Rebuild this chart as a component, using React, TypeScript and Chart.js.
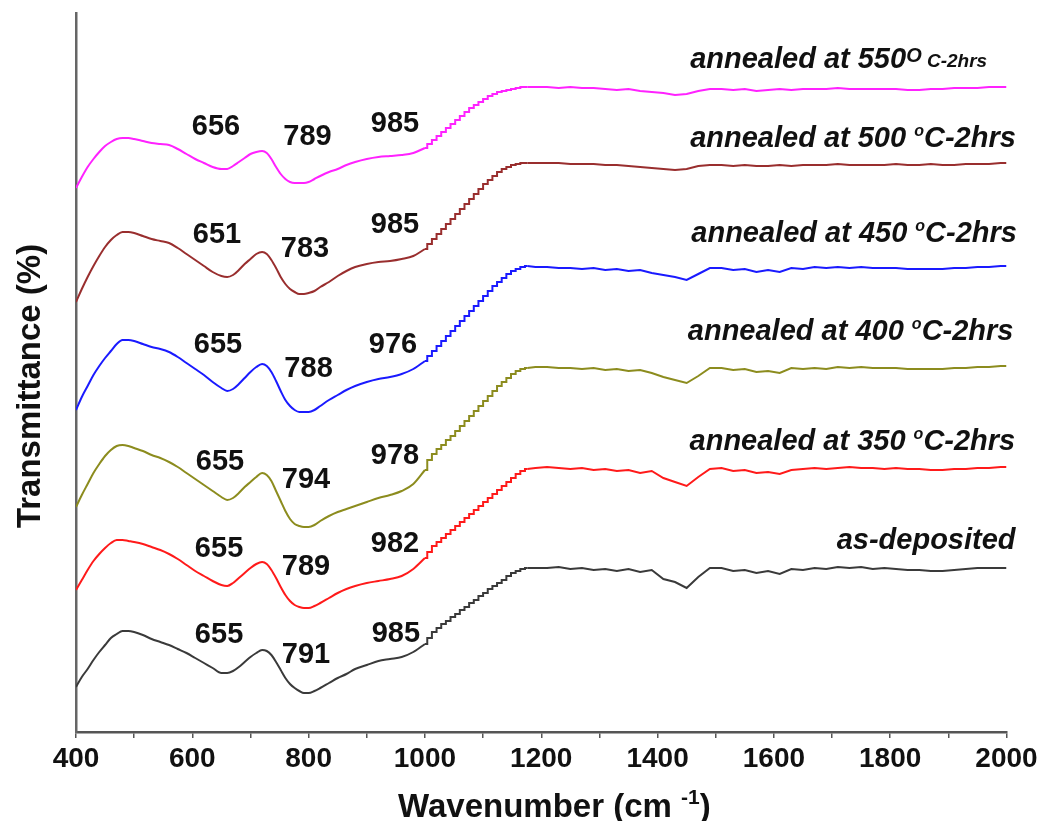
import React, { useEffect, useRef } from 'react';
import { Chart, registerables } from 'chart.js';
Chart.register(...registerables);

const FONT = '"Liberation Sans", Arial, Helvetica, sans-serif';

// wavenumber grids (cm-1)
const wnSmooth = [400, 410, 420, 430, 440, 450, 460, 470, 480, 490,
  500, 515, 530, 545, 560, 575, 590, 605, 620, 635,
  650, 660, 670, 680, 690, 700, 710, 720, 728, 736,
  744, 752, 760, 768, 776, 784, 792, 800, 810, 820,
  835, 850, 865, 880, 900, 920, 940, 960, 980, 1000];
const wnStep = [1000, 1008, 1016, 1024, 1032, 1040, 1048, 1056, 1064, 1072,
  1080, 1088, 1096, 1104, 1112, 1120, 1128, 1136, 1144, 1152,
  1160, 1168, 1176,
  1190, 1210, 1230, 1250, 1270, 1290, 1310,
  1330, 1350, 1370, 1390, 1410, 1430, 1450, 1470, 1490, 1510,
  1530, 1550, 1570, 1590, 1610, 1630, 1650, 1670, 1690, 1710,
  1730, 1750, 1770, 1790, 1810, 1830, 1850, 1870, 1890, 1910,
  1930, 1950, 1970, 1990, 2000];
const RISE_END = 23; // first 23 points of wnStep form the stair-stepped rise

// offset transmittance (arbitrary units) — as-deposited
const asDepSmooth = [45, 55, 63, 72, 80, 87, 94, 98, 101, 101,
  100, 97, 93, 90, 87, 83, 79, 74, 69, 64,
  59, 59, 61, 65, 70, 75, 79, 82, 81, 77,
  70, 62, 54, 48, 44, 41, 39, 39, 41, 44,
  49, 54, 58, 63, 67, 71, 73, 75, 80, 88];
const asDepStep = [88, 94, 100, 104, 108, 111, 115, 118, 122, 125,
  129, 132, 136, 139, 143, 146, 149, 152, 156, 159,
  161, 163, 164,
  164, 164, 165, 163, 164, 162, 163,
  161, 163, 160, 162, 153, 150, 144, 155, 164, 164,
  161, 162, 159, 161, 158, 163, 162, 164, 163, 165,
  164, 165, 163, 164, 163, 162, 162, 161, 161, 162,
  163, 164, 164, 164, 164];

// annealed 350 °C
const t350Smooth = [142, 152, 162, 171, 178, 184, 189, 192, 192, 191,
  190, 188, 185, 182, 178, 173, 167, 161, 156, 151,
  147, 146, 149, 154, 159, 164, 168, 170, 168, 162,
  154, 145, 137, 131, 127, 125, 124, 124, 126, 129,
  134, 139, 143, 146, 149, 151, 153, 156, 163, 174];
const t350Step = [174, 180, 186, 190, 194, 198, 202, 206, 210, 214,
  218, 222, 226, 230, 234, 238, 242, 246, 250, 254,
  258, 261, 263,
  264, 265, 264, 263, 264, 262, 263,
  261, 262, 259, 261, 254, 250, 246, 255, 263, 264,
  261, 262, 259, 260, 258, 262, 263, 264, 263, 264,
  265, 264, 264, 263, 264, 263, 263, 262, 262, 263,
  263, 264, 264, 265, 265];

// annealed 400 °C
const t400Smooth = [225, 237, 248, 259, 268, 276, 282, 286, 287, 286,
  284, 281, 277, 274, 270, 265, 259, 253, 247, 241,
  235, 232, 234, 239, 245, 250, 255, 259, 257, 251,
  241, 231, 221, 213, 208, 206, 205, 205, 207, 211,
  216, 220, 223, 226, 230, 234, 237, 241, 248, 262];
const t400Step = [262, 272, 278, 283, 287, 292, 296, 301, 306, 311,
  316, 321, 326, 331, 336, 341, 346, 350, 354, 358,
  361, 363, 364,
  365, 365, 364, 364, 363, 364, 362,
  363, 361, 362, 359, 355, 352, 349, 356, 364, 364,
  362, 363, 360, 361, 359, 364, 363, 364, 363, 365,
  364, 365, 364, 364, 364, 363, 363, 363, 363, 364,
  364, 365, 365, 366, 366];

// annealed 450 °C
const t450Smooth = [322, 335, 346, 357, 366, 374, 381, 388, 392, 392,
  391, 388, 385, 383, 380, 375, 369, 363, 357, 350,
  344, 341, 343, 348, 354, 360, 365, 368, 366, 360,
  351, 341, 332, 326, 322, 320, 320, 320, 322, 326,
  332, 337, 342, 346, 350, 353, 355, 358, 363, 371];
const t450Step = [371, 376, 381, 386, 391, 396, 401, 406, 411, 416,
  421, 426, 431, 436, 441, 446, 450, 454, 458, 461,
  463, 465, 466,
  465, 465, 464, 464, 463, 464, 462,
  463, 461, 462, 459, 457, 455, 452, 458, 464, 464,
  462, 463, 460, 462, 460, 464, 463, 465, 464, 465,
  464, 465, 464, 464, 464, 463, 463, 463, 463, 464,
  464, 465, 465, 466, 466];

// annealed 500 °C
const t500Smooth = [430, 443, 455, 466, 476, 485, 492, 497, 500, 500,
  499, 496, 493, 491, 489, 484, 478, 472, 466, 460,
  456, 455, 457, 462, 468, 473, 478, 480, 478, 472,
  464, 455, 448, 443, 440, 438, 438, 439, 441, 445,
  450, 456, 461, 465, 468, 470, 471, 473, 476, 483];
const t500Step = [483, 488, 493, 498, 503, 508, 513, 518, 523, 528,
  533, 538, 543, 548, 552, 556, 560, 563, 565, 567,
  568, 569, 569,
  569, 569, 569, 568, 568, 568, 567,
  567, 566, 565, 564, 563, 562, 563, 566, 567, 567,
  566, 567, 566, 566, 567, 566, 567, 567, 567, 568,
  567, 567, 567, 567, 568, 567, 567, 568, 567, 567,
  568, 568, 568, 569, 569];

// annealed 550 °C
const t550Smooth = [544, 555, 565, 573, 580, 586, 590, 593, 594, 594,
  593, 591, 589, 588, 587, 583, 578, 573, 569, 565,
  563, 563, 566, 570, 574, 578, 580, 581, 579, 573,
  565, 558, 553, 550, 549, 549, 549, 550, 553, 556,
  560, 563, 567, 570, 573, 575, 576, 577, 579, 584];
const t550Step = [584, 588, 592, 596, 600, 604, 608, 612, 616, 620,
  624, 627, 630, 633, 636, 638, 640, 641, 642, 643,
  644, 645, 645,
  645, 645, 644, 645, 644, 644, 643,
  642, 643, 641, 640, 639, 637, 638, 641, 643, 643,
  642, 643, 641, 642, 643, 642, 643, 643, 643, 644,
  643, 643, 643, 643, 643, 642, 642, 643, 643, 644,
  644, 644, 645, 645, 645];

const seriesSmooth = [asDepSmooth, t350Smooth, t400Smooth, t450Smooth, t500Smooth, t550Smooth];
const seriesStep = [asDepStep, t350Step, t400Step, t450Step, t500Step, t550Step];
const seriesColors = ['#3a3a3a', '#ff1a1a', '#8c8c1e', '#1a1aff', '#992e2e', '#ff22ff'];

// series name labels
const labelMain = ['as-deposited', 'annealed at 350 ', 'annealed at 400 ', 'annealed at 450 ', 'annealed at 500 ', 'annealed at 550'];
const labelWn = [1708, 1455, 1452, 1458, 1456, 1456];
const labelVal = [183, 282, 392, 490, 585, 664];

// peak annotations
const peakText = ['655', '791', '985', '655', '789', '982', '655', '794', '978', '655', '788', '976', '651', '783', '985', '656', '789', '985'];
const peakWn = [646, 795.5, 950, 646, 795.5, 948.5, 647.6, 795.5, 948.5, 644.2, 799.9, 945.1, 642.4, 793.8, 948.5, 640.7, 798.1, 948.5];
const peakVal = [89, 69, 90, 175, 157, 180, 262, 244, 268, 379, 355, 379, 489, 475, 499, 597, 587, 600];

const xTicks = [400, 600, 800, 1000, 1200, 1400, 1600, 1800, 2000];

function pts(xs: number[], ys: number[]) {
  return xs.map((x, i) => ({ x, y: ys[i] }));
}

function drawParts(ctx: CanvasRenderingContext2D, x: number, y: number, parts: { t: string; f: string; dy: number }[]) {
  let cx = x;
  for (const p of parts) {
    ctx.font = p.f;
    ctx.fillText(p.t, cx, y + p.dy);
    cx += ctx.measureText(p.t).width;
  }
}

const annotPlugin = {
  id: 'annot',
  afterDraw(chart: any) {
    const ctx: CanvasRenderingContext2D = chart.ctx;
    const xs = chart.scales.x;
    const ys = chart.scales.y;
    ctx.save();
    ctx.fillStyle = '#111';
    ctx.textBaseline = 'alphabetic';
    // peak labels
    ctx.textAlign = 'center';
    ctx.font = `bold 29px ${FONT}`;
    peakText.forEach((t, i) => {
      ctx.fillText(t, xs.getPixelForValue(peakWn[i]), ys.getPixelForValue(peakVal[i]));
    });
    // series labels
    ctx.textAlign = 'left';
    const big = `italic bold 29px ${FONT}`;
    labelMain.forEach((t, i) => {
      const x = xs.getPixelForValue(labelWn[i]);
      const y = ys.getPixelForValue(labelVal[i]);
      if (i === 0) {
        drawParts(ctx, x, y, [{ t, f: big, dy: 0 }]);
      } else if (i === 5) {
        drawParts(ctx, x, y, [
          { t, f: big, dy: 0 },
          { t: 'O', f: `italic bold 20px ${FONT}`, dy: -6 },
          { t: ' C-2hrs', f: `italic bold 19px ${FONT}`, dy: -1 },
        ]);
      } else {
        drawParts(ctx, x, y, [
          { t, f: big, dy: 0 },
          { t: 'o', f: `italic bold 16px ${FONT}`, dy: -11 },
          { t: 'C-2hrs', f: big, dy: 0 },
        ]);
      }
    });
    // x title
    drawParts(ctx, 398, 817, [
      { t: 'Wavenumber (cm ', f: `bold 33px ${FONT}`, dy: 0 },
      { t: '-1', f: `bold 21px ${FONT}`, dy: -13 },
      { t: ')', f: `bold 33px ${FONT}`, dy: 0 },
    ]);
    // y title
    ctx.translate(40, 386);
    ctx.rotate(-Math.PI / 2);
    ctx.textAlign = 'center';
    ctx.font = `bold 33px ${FONT}`;
    ctx.fillText('Transmittance (%)', 0, 0);
    ctx.restore();
  },
};

export default function App() {
  const ref = useRef<HTMLCanvasElement>(null);
  useEffect(() => {
    if (!ref.current) return;
    const datasets: any[] = [];
    seriesSmooth.forEach((s, i) => {
      const all = pts(wnStep, seriesStep[i]);
      const common = { borderColor: seriesColors[i], borderWidth: 2, pointRadius: 0, fill: false };
      datasets.push({ ...common, data: pts(wnSmooth, s), cubicInterpolationMode: 'monotone' });
      datasets.push({ ...common, data: all.slice(0, RISE_END), stepped: 'middle' });
      datasets.push({ ...common, data: all.slice(RISE_END - 1), tension: 0 });
    });
    const chart = new Chart(ref.current, {
      type: 'line',
      data: { datasets },
      options: {
        animation: false,
        responsive: false,
        devicePixelRatio: 1,
        layout: { padding: { left: 16, top: 13, right: 34.5, bottom: 0 } },
        plugins: { legend: { display: false }, tooltip: { enabled: false } },
        scales: {
          x: {
            type: 'linear',
            min: 400,
            max: 2000,
            afterBuildTicks: (scale: any) => {
              const t: any[] = [];
              for (let v = 400; v <= 2000; v += 100) t.push({ value: v });
              scale.ticks = t;
            },
            afterFit: (scale: any) => {
              scale.height = 89;
              scale.paddingLeft = 0;
              scale.paddingRight = 0;
            },
            ticks: {
              autoSkip: false,
              maxRotation: 0,
              padding: 4,
              color: '#111',
              font: { family: FONT, size: 28, weight: 'bold' },
              callback: (v: any) => (xTicks.includes(Number(v)) ? String(v) : ''),
            },
            grid: { display: true, drawOnChartArea: false, drawTicks: true, tickLength: 6, color: '#555', lineWidth: 1.5 },
            border: { display: true, color: '#555', width: 2.5 },
          },
          y: {
            min: 0,
            max: 719,
            afterFit: (scale: any) => {
              scale.width = 60;
            },
            ticks: { display: false },
            grid: { display: false, drawTicks: false },
            border: { display: true, color: '#666', width: 2.5 },
          },
        },
      },
      plugins: [annotPlugin],
    } as any);
    return () => chart.destroy();
  }, []);
  return (
    <div style={{ position: 'absolute', left: 0, top: 0, width: 1041, height: 821, background: '#fff' }}>
      <canvas ref={ref} width={1041} height={821} />
    </div>
  );
}
